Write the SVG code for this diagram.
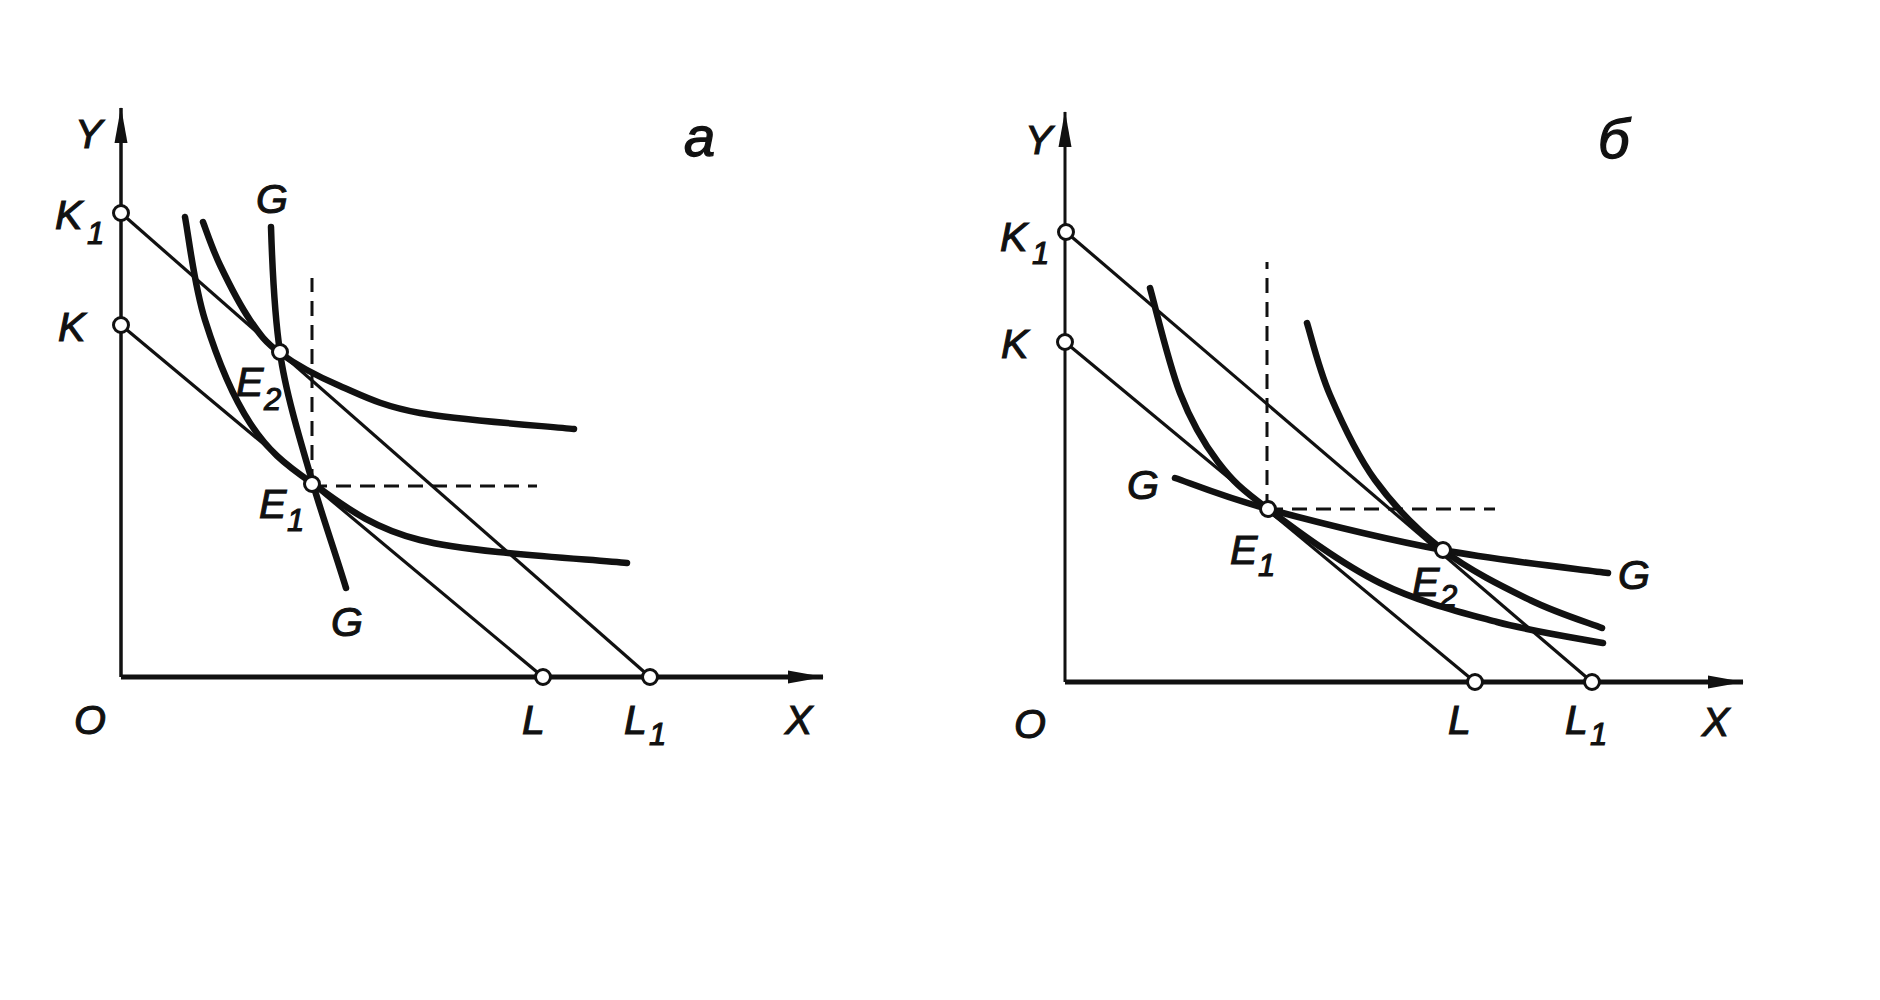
<svg xmlns="http://www.w3.org/2000/svg" width="1880" height="1000" viewBox="0 0 1880 1000">
<style>
.ax{stroke:#111;stroke-width:4;fill:none}
.bl{stroke:#111;stroke-width:3.2;fill:none}
.cv{stroke:#111;stroke-width:6.5;fill:none;stroke-linecap:round}
.ds{stroke:#111;stroke-width:3;fill:none;stroke-dasharray:15 9}
.pt{fill:#fff;stroke:#111;stroke-width:3}
text{font-family:"Liberation Sans",Arial,sans-serif;font-style:italic;fill:#111;stroke:#111;stroke-width:1.1;font-size:41px}
.sub{font-size:31px}
.big{font-size:56px;stroke-width:1.3}
</style>
<defs>
<marker id="arr" markerUnits="userSpaceOnUse" markerWidth="36" markerHeight="16" viewBox="0 0 36 16" refX="35" refY="8" orient="auto">
<path d="M0,1.5 L36,8 L0,14.5 Z" fill="#111"/>
</marker>
</defs>
<rect width="1880" height="1000" fill="#fff"/>

<!-- Panel a -->
<g id="a-axes">
<line class="ax" x1="121" y1="677" x2="121" y2="108" marker-end="url(#arr)" style="stroke-width:3.5"/>
<line class="ax" x1="121" y1="677" x2="823" y2="677" marker-end="url(#arr)" style="stroke-width:5"/>
<text x="75" y="148">Y</text>
<text x="74" y="734">O</text>
<text x="785" y="734">X</text>
<text class="big" x="684" y="156">а</text>
</g>
<g id="connectors-a">
<line class="bl" x1="121" y1="325" x2="543" y2="677"/>
<line class="bl" x1="121" y1="213" x2="650" y2="677"/>
<path class="ds" d="M312,484 V278"/>
<path class="ds" d="M312,486 H537"/>
<path class="cv" d="M203,222 C205.8,229.2 212.2,248.7 220,265 C227.8,281.3 240,305.3 250,320 C260,334.7 265,342 280,353 C295,364 316.7,376 340,386 C363.3,396 381,405.8 420,413 C459,420.2 548.3,426.3 574,429"/>
<path class="cv" d="M185,217 C188.3,234.2 194.2,285.7 205,320 C215.8,354.3 232.2,395.8 250,423 C267.8,450.2 283.7,463.5 312,483 C340.3,502.5 367.5,526.7 420,540 C472.5,553.3 592.5,559.2 627,563"/>
<path class="cv" d="M271,227 C273,290 276,325 280,352 C285,390 300,440 313,484 C322,515 336,555 346,588"/>
<text x="256" y="213">G</text>
<text x="331" y="636">G</text>
</g>
<g id="a-K1"><circle class="pt" cx="121" cy="213" r="7.5"/><text x="55" y="229">K</text><text class="sub" x="87" y="244">1</text></g>
<g id="a-K"><circle class="pt" cx="121" cy="325" r="7.5"/><text x="58" y="341">K</text></g>
<g id="a-E2"><circle class="pt" cx="280" cy="352" r="7.5"/><text x="236" y="396">E</text><text class="sub" x="264" y="410">2</text></g>
<g id="a-E1"><circle class="pt" cx="312" cy="484" r="7.5"/><text x="259" y="518">E</text><text class="sub" x="287" y="531">1</text></g>
<g id="a-L"><circle class="pt" cx="543" cy="677" r="7.5"/><text x="522" y="734">L</text></g>
<g id="a-L1"><circle class="pt" cx="650" cy="677" r="7.5"/><text x="624" y="734">L</text><text class="sub" x="649" y="745">1</text></g>

<!-- Panel b -->
<g id="b-axes">
<line class="ax" x1="1065" y1="682" x2="1065" y2="112" marker-end="url(#arr)" style="stroke-width:3"/>
<line class="ax" x1="1065" y1="682" x2="1743" y2="682" marker-end="url(#arr)" style="stroke-width:5"/>
<text x="1025" y="154">Y</text>
<text x="1014" y="738">O</text>
<text x="1702" y="736">X</text>
<text class="big" x="1598" y="158">б</text>
</g>
<g id="connectors-b">
<line class="bl" x1="1065" y1="342" x2="1475" y2="682"/>
<line class="bl" x1="1066" y1="232" x2="1592" y2="682"/>
<path class="ds" d="M1267,509 V262"/>
<path class="ds" d="M1268,509 H1495"/>
<path class="cv" d="M1150,288 C1155,305.5 1168.7,364 1180,393 C1191.3,422 1203.3,442.7 1218,462 C1232.7,481.3 1241,488.8 1268,509 C1295,529.2 1341.8,564.2 1380,583 C1418.2,601.8 1459.8,612 1497,622 C1534.2,632 1585.3,639.5 1603,643"/>
<path class="cv" d="M1307,323 C1310.8,335 1318.7,368.8 1330,395 C1341.3,421.2 1356.2,454.2 1375,480 C1393.8,505.8 1417.2,530 1443,550 C1468.8,570 1503.5,587 1530,600 C1556.5,613 1590,623.3 1602,628"/>
<path class="cv" d="M1175,478 C1190.5,483.2 1223.3,497 1268,509 C1312.7,521 1386.3,539.3 1443,550 C1499.7,560.7 1580.5,569.2 1608,573"/>
<text x="1127" y="499">G</text>
<text x="1618" y="589">G</text>
</g>
<g id="b-K1"><circle class="pt" cx="1066" cy="232" r="7.5"/><text x="1000" y="251">K</text><text class="sub" x="1032" y="264">1</text></g>
<g id="b-K"><circle class="pt" cx="1065" cy="342" r="7.5"/><text x="1001" y="358">K</text></g>
<g id="b-E1"><circle class="pt" cx="1268" cy="509" r="7.5"/><text x="1230" y="564">E</text><text class="sub" x="1258" y="576">1</text></g>
<g id="b-E2"><circle class="pt" cx="1443" cy="550" r="7.5"/><text x="1412" y="596">E</text><text class="sub" x="1440" y="607">2</text></g>
<g id="b-L"><circle class="pt" cx="1475" cy="682" r="7.5"/><text x="1448" y="734">L</text></g>
<g id="b-L1"><circle class="pt" cx="1592" cy="682" r="7.5"/><text x="1565" y="734">L</text><text class="sub" x="1590" y="745">1</text></g>
</svg>
